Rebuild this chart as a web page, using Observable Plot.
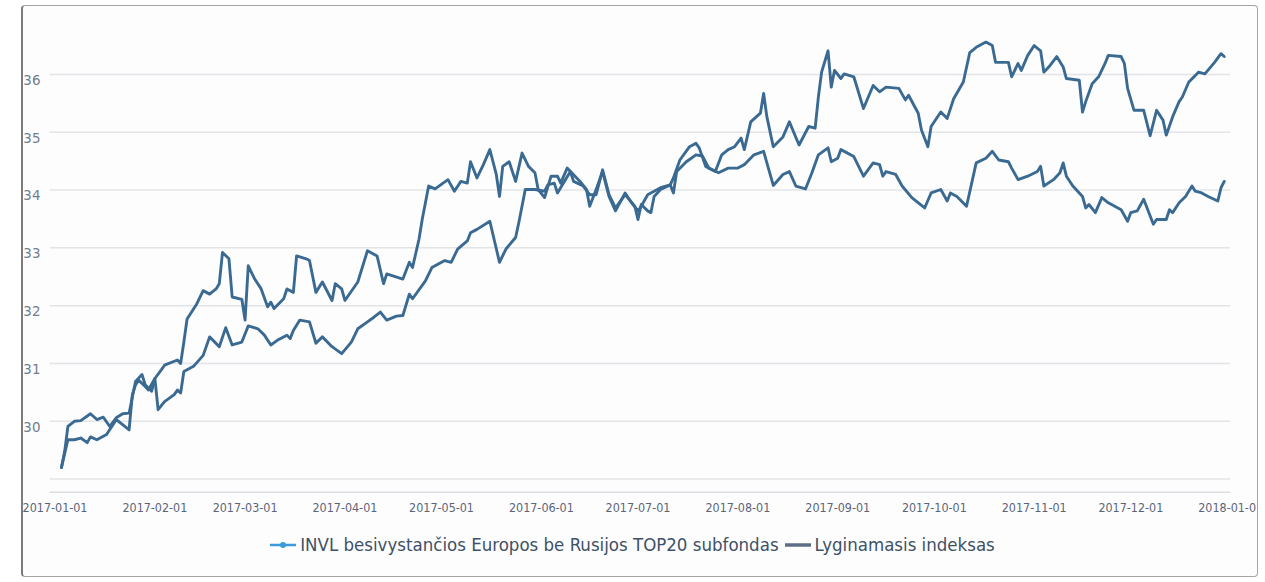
<!DOCTYPE html>
<html>
<head>
<meta charset="utf-8">
<script src="https://cdn.jsdelivr.net/npm/d3@7"></script>
<script src="https://cdn.jsdelivr.net/npm/@observablehq/plot@0.6"></script>
<style>
html,body{margin:0;padding:0;background:#ffffff;}
#frame{position:absolute;left:21px;top:5px;width:1234px;height:570px;border:1.5px solid #a4a4a4;border-left:2px solid #7c7c7c;border-radius:4px;overflow:hidden;background:#fdfdfe;}
#chart{position:absolute;left:-23px;top:-6.5px;}
#legend{position:absolute;left:-23px;top:528px;width:1265px;display:flex;justify-content:center;align-items:center;font-family:"DejaVu Sans Condensed","DejaVu Sans",sans-serif;font-stretch:condensed;font-size:18.5px;color:#3e5166;}
#legend .item{display:flex;align-items:center;margin:0 3px;}
#legend svg{margin-right:4px;}
</style>
</head>
<body>
<div id="frame"><div id="chart"></div><div id="legend"></div></div>
<script>
// Series names (legend)
const seriesNames = ["INVL besivystančios Europos be Rusijos TOP20 subfondas", "Lyginamasis indeksas"];
const legendColors = ["#3c9bdc", "#5c6f86"];
const lineColor = "#3a6a92";

// Y tick labels and grid values
const yTicks = [30, 31, 32, 33, 34, 35, 36];
const yGrid = [29, 30, 31, 32, 33, 34, 35, 36];
// X tick labels
const monthTicks = ["2017-01-01","2017-02-01","2017-03-01","2017-04-01","2017-05-01","2017-06-01","2017-07-01","2017-08-01","2017-09-01","2017-10-01","2017-11-01","2017-12-01","2018-01-01"];

// Series 1 — days since 2017-01-01 and values
const fundDay = [2,3,4,6,8,11,13,15,17,19,21,23,25,27,28,30,31,33,34,38,39,40,41,44,46,48,50,51,52,54,55,58,59,60,62,64,66,67,68,71,72,74,75,78,79,81,83,86,87,89,90,94,97,100,102,103,108,110,111,113,114,116,118,122,124,126,128,129,131,133,135,137,138,139,141,143,145,147,149,150,152,154,156,157,159,163,165,166,168,170,172,174,177,179,181,182,184,188,191,192,194,197,199,200,202,205,207,209,211,213,214,216,219,220,221,223,226,228,231,234,236,237,238,240,241,242,244,245,248,251,254,256,258,262,264,265,268,269,271,272,275,277,279,282,284,286,289,291,292,295,296,297,299,300,302,304,306,307,309,311,313,314,318,319,320,322,324,326,327,331,332,333,335,338,340,342,344,345,347,349,350,352,354,355,357,360,362,363];
const fundValue = [29.20,29.48,29.91,30.00,30.01,30.13,30.03,30.07,29.91,30.06,
30.13,30.14,30.69,30.81,30.63,30.52,30.74,30.89,30.97,31.06,
31.00,31.37,31.77,32.03,32.26,32.20,32.29,32.38,32.92,32.81,
32.15,32.11,31.75,32.69,32.46,32.29,31.98,32.06,31.95,32.12,
32.29,32.23,32.86,32.81,32.78,32.23,32.41,32.09,32.38,32.29,
32.09,32.41,32.95,32.86,32.38,32.55,32.46,32.75,32.66,33.15,
33.49,34.07,34.02,34.18,33.98,34.15,34.12,34.49,34.21,34.44,
34.70,34.27,33.89,34.41,34.49,34.15,34.64,34.41,34.30,34.01,
33.87,34.24,34.24,34.12,34.38,34.15,34.01,33.72,34.01,34.32,
33.89,33.64,33.95,33.78,33.64,33.72,33.92,34.04,34.09,34.21,
34.52,34.75,34.81,34.73,34.41,34.32,34.61,34.70,34.75,34.90,
34.70,35.18,35.33,35.67,35.27,34.75,34.92,35.18,34.78,35.10,
35.07,35.61,36.04,36.41,35.78,36.07,35.93,36.01,35.96,35.41,
35.81,35.70,35.78,35.76,35.56,35.64,35.33,35.04,34.75,35.10,
35.35,35.24,35.58,35.87,36.38,36.47,36.56,36.50,36.21,36.21,
36.21,35.96,36.19,36.07,36.33,36.50,36.41,36.04,36.16,36.31,
36.13,35.93,35.90,35.35,35.53,35.84,35.96,36.19,36.33,36.31,
36.19,35.76,35.38,35.38,34.94,35.38,35.21,34.95,35.27,35.53,
35.61,35.87,35.98,36.04,36.01,36.21,36.36,36.31];

// Series 2 — days since 2017-01-01 and values
const indexDay = [2,4,6,8,10,11,13,16,18,19,21,23,24,25,26,28,29,31,32,34,37,38,39,40,43,46,48,51,53,55,58,60,63,65,67,69,72,73,74,76,79,81,83,86,89,92,94,97,99,101,103,106,108,110,111,115,117,118,121,123,125,128,129,131,135,138,140,143,144,146,149,152,153,155,156,160,161,164,166,168,170,172,174,177,180,181,182,184,185,186,188,191,192,193,196,199,201,203,206,209,212,214,217,220,223,226,228,230,233,235,237,240,241,243,244,248,251,254,256,257,258,261,263,266,270,272,275,277,278,280,283,286,289,291,293,296,297,299,302,305,306,307,310,312,313,314,316,319,320,321,323,325,327,331,333,334,336,338,341,342,345,346,347,349,351,353,354,356,358,361,362,363];
const indexValue = [29.20,29.68,29.68,29.71,29.63,29.73,29.68,29.77,29.94,30.03,
29.94,29.85,30.46,30.63,30.71,30.60,30.54,30.74,30.20,30.34,
30.46,30.54,30.49,30.86,30.95,31.14,31.46,31.29,31.62,31.32,
31.37,31.65,31.60,31.49,31.32,31.40,31.49,31.43,31.57,31.75,
31.72,31.35,31.46,31.29,31.17,31.37,31.60,31.72,31.80,31.89,
31.75,31.82,31.83,32.20,32.12,32.43,32.66,32.69,32.78,32.75,
32.98,33.12,33.26,33.32,33.46,32.75,32.98,33.18,33.44,34.01,
34.01,33.98,34.09,34.12,33.95,34.32,34.15,34.07,33.92,33.92,
34.35,33.92,33.69,33.92,33.72,33.49,33.75,33.64,33.61,33.89,
34.01,34.09,33.95,34.32,34.49,34.61,34.59,34.38,34.30,34.38,
34.38,34.44,34.61,34.67,34.08,34.27,34.32,34.07,34.02,34.30,
34.61,34.73,34.49,34.55,34.70,34.58,34.24,34.47,34.44,34.24,
34.32,34.27,34.07,33.87,33.69,33.95,34.01,33.81,33.95,33.89,
33.72,34.47,34.55,34.67,34.52,34.49,34.38,34.18,34.24,34.32,
34.41,34.07,34.18,34.30,34.47,34.24,34.07,33.89,33.69,33.75,
33.61,33.87,33.78,33.66,33.46,33.61,33.64,33.84,33.41,33.49,
33.49,33.66,33.61,33.78,33.89,34.07,33.98,33.95,33.89,33.81,
34.04,34.15];

const start = Date.UTC(2017, 0, 1);
const toDate = d => new Date(start + d * 864e5);
const rows = [
  ...fundDay.map((d, i) => ({date: toDate(d), value: fundValue[i], series: seriesNames[0]})),
  ...indexDay.map((d, i) => ({date: toDate(d), value: indexValue[i], series: seriesNames[1]}))
];
const yMin = 28.77, yMax = 36.85;

const chart = Plot.plot({
  width: 1265,
  height: 525,
  marginLeft: 50,
  marginRight: 27,
  marginTop: 25,
  marginBottom: 30,
  style: {background: "transparent", color: "#5b6478", fontFamily: "'DejaVu Sans Condensed','DejaVu Sans',sans-serif"},
  x: {type: "utc", domain: [new Date(start - 1.5 * 864e5), new Date(monthTicks[monthTicks.length - 1])]},
  y: {domain: [yMin, yMax]},
  marks: [
    Plot.gridY(yGrid, {stroke: "#e3e4e7", strokeOpacity: 1, strokeWidth: 1.5}),
    Plot.ruleY([yMin], {stroke: "#dcdde1", strokeWidth: 1.5}),
    Plot.axisY({ticks: [], label: null}),
    Plot.text(yTicks, {y: d => d, text: d => String(d), frameAnchor: "left", textAnchor: "start", dx: -27, dy: 6, fill: "#717e8e", fontSize: 13.5, fontFamily: "'DejaVu Sans',sans-serif"}),
    Plot.axisX({ticks: monthTicks.map(s => new Date(s)), tickFormat: d3.utcFormat("%Y-%m-%d"), tickSize: 0, tickPadding: 11, fontSize: 12.5, label: null}),
    Plot.line(rows, {x: "date", y: "value", z: "series", stroke: lineColor, strokeWidth: 2.9, strokeLinejoin: "round"})
  ]
});
document.getElementById("chart").appendChild(chart);

const legend = document.getElementById("legend");
seriesNames.forEach((name, i) => {
  const item = document.createElement("div");
  item.className = "item";
  item.innerHTML = `<svg width="26" height="10"><line x1="0" y1="5" x2="26" y2="5" stroke="${legendColors[i]}" stroke-width="${i === 0 ? 2.5 : 3.5}"/>${i === 0 ? `<circle cx="13" cy="5" r="3" fill="${legendColors[i]}"/>` : ""}</svg><span>${name}</span>`;
  legend.appendChild(item);
});
</script>
</body>
</html>
